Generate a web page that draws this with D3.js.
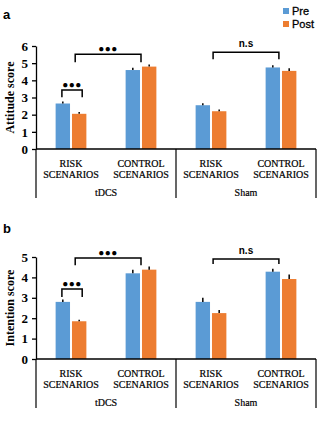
<!DOCTYPE html>
<html>
<head>
<meta charset="utf-8">
<script src="https://cdn.jsdelivr.net/npm/d3@7"></script>
<style>
body { margin:0; background:#fff; }
svg text { fill:#000; }
</style>
</head>
<body>
<div id="chart"></div>
<script>
var categories = ["RISK|SCENARIOS", "CONTROL|SCENARIOS", "RISK|SCENARIOS ", "CONTROL|SCENARIOS "];
var groups = ["tDCS", "Sham"];
var series = ["Pre", "Post"];

var attitudePre = [2.65, 4.6, 2.55, 4.75];
var attitudePost = [2.05, 4.8, 2.2, 4.55];
var attitudePreErr = [0.12, 0.13, 0.12, 0.13];
var attitudePostErr = [0.1, 0.12, 0.1, 0.15];
var attitudeTicks = [0, 1, 2, 3, 4, 5, 6];

var intentionPre = [2.8, 4.2, 2.8, 4.28];
var intentionPost = [1.85, 4.38, 2.25, 3.92];
var intentionPreErr = [0.12, 0.17, 0.2, 0.15];
var intentionPostErr = [0.08, 0.15, 0.15, 0.22];
var intentionTicks = [0, 1, 2, 3, 4, 5];

// brackets: [from, to] in category units, top / bottom in data units, label
var attitudeBrackets = [
	{ from:-0.13, to:0.16, top:3.43, bottom:3.02, label:"\u25CF\u25CF\u25CF" },
	{ from:0.06, to:1.0, top:5.52, bottom:5.06, label:"\u25CF\u25CF\u25CF" },
	{ from:2.03, to:2.97, top:5.64, bottom:5.23, label:"n.s" }
];
var intentionBrackets = [
	{ from:-0.13, to:0.16, top:3.43, bottom:3.04, label:"\u25CF\u25CF\u25CF" },
	{ from:0.06, to:1.0, top:4.95, bottom:4.6, label:"\u25CF\u25CF\u25CF" },
	{ from:2.03, to:2.97, top:4.9, bottom:4.66, label:"n.s" }
];

var colors = { "Pre":"#5b9bd5", "Post":"#ed7d31" };

var svg = d3.select("#chart")
	.append("svg")
	.attr("width", 328)
	.attr("height", 432);

var serif = "Liberation Serif, Times New Roman, serif";
var sans = "Liberation Sans, Arial, sans-serif";

function drawPanel(opt) {
	var g = svg.append("g");
	var left = 36, right = 316;

	var xScale = d3.scaleBand()
		.domain(categories)
		.range([left, right])
		.padding(0);

	var catX = function(c) { return left + xScale.bandwidth() * (c + 0.5); };

	var yScale = d3.scaleLinear()
		.domain([0, d3.max(opt.ticks)])
		.range([opt.bottom, opt.top]);

	var inner = d3.scaleBand()
		.domain(series)
		.range([0, xScale.bandwidth()])
		.paddingInner(0.12)
		.paddingOuter(1.2);

	// bars
	series.forEach(function(s) {
		var vals = s == "Pre" ? opt.pre : opt.post;
		var errs = s == "Pre" ? opt.preErr : opt.postErr;
		g.selectAll(".bar-" + s)
			.data(vals)
			.enter()
			.append("rect")
			.attr("x", function(d, i) { return xScale(categories[i]) + inner(s); })
			.attr("y", function(d) { return yScale(d); })
			.attr("width", inner.bandwidth())
			.attr("height", function(d) { return yScale(0) - yScale(d); })
			.attr("fill", colors[s]);
		g.selectAll(".err-" + s)
			.data(vals)
			.enter()
			.append("line")
			.attr("x1", function(d, i) { return xScale(categories[i]) + inner(s) + inner.bandwidth() / 2; })
			.attr("x2", function(d, i) { return xScale(categories[i]) + inner(s) + inner.bandwidth() / 2; })
			.attr("y1", function(d) { return yScale(d); })
			.attr("y2", function(d, i) { return yScale(d + errs[i]); })
			.attr("stroke", "#000")
			.attr("stroke-width", 1.5);
	});

	// y axis
	var yAxis = d3.axisLeft(yScale)
		.tickValues(opt.ticks)
		.tickFormat(d3.format("d"))
		.tickSizeInner(4)
		.tickSizeOuter(0)
		.tickPadding(4);

	var ya = g.append("g")
		.attr("transform", "translate(" + left + ",0)")
		.call(yAxis);
	ya.selectAll("text")
		.attr("font-family", serif)
		.attr("font-weight", "bold")
		.attr("font-size", "13px");
	ya.selectAll("line, path").attr("stroke", "#000").attr("stroke-width", 1.3);

	g.append("text")
		.attr("transform", "translate(14," + ((opt.top + opt.bottom) / 2) + ") rotate(-90)")
		.attr("text-anchor", "middle")
		.attr("font-family", serif)
		.attr("font-weight", "bold")
		.attr("font-size", "12px")
		.text(opt.title);

	// x axis line and separators
	g.append("line")
		.attr("x1", left).attr("x2", right)
		.attr("y1", yScale(0)).attr("y2", yScale(0))
		.attr("stroke", "#000").attr("stroke-width", 1.3);

	[0, 2, 4].forEach(function(k) {
		var x = k < 4 ? xScale(categories[k]) : right;
		g.append("line")
			.attr("x1", x).attr("x2", x)
			.attr("y1", yScale(0)).attr("y2", yScale(0) + 49)
			.attr("stroke", "#000").attr("stroke-width", 1.2);
	});

	categories.forEach(function(c, i) {
		var parts = c.trim().split("|");
		parts.forEach(function(p, j) {
			g.append("text")
				.attr("x", xScale(c) + xScale.bandwidth() / 2)
				.attr("y", yScale(0) + 18 + j * 11)
				.attr("text-anchor", "middle")
				.attr("font-family", serif)
				.attr("font-size", "10px")
				.attr("stroke", "#000")
				.attr("stroke-width", 0.2)
				.text(p);
		});
	});

	groups.forEach(function(gr, i) {
		g.append("text")
			.attr("x", xScale(categories[i * 2 + 1]))
			.attr("y", yScale(0) + 47)
			.attr("text-anchor", "middle")
			.attr("font-family", serif)
			.attr("font-size", "10px")
			.attr("stroke", "#000")
			.attr("stroke-width", 0.2)
			.text(gr);
	});

	// brackets
	opt.brackets.forEach(function(b) {
		var x1 = catX(b.from), x2 = catX(b.to);
		var yt = yScale(b.top), yb = yScale(b.bottom);
		g.append("path")
			.attr("d", "M" + x1 + "," + yb + "V" + yt + "H" + x2 + "V" + yb)
			.attr("fill", "none")
			.attr("stroke", "#000")
			.attr("stroke-width", 1.5);
		var lab = g.append("text")
			.attr("x", (x1 + x2) / 2)
			.attr("text-anchor", "middle")
			.attr("font-family", sans)
			.attr("font-weight", "bold");
		if (b.label == "n.s") {
			lab.attr("y", yt - 5).attr("font-size", "10px").text(b.label);
		} else {
			lab.attr("y", yt - 2).attr("font-size", "10px").attr("letter-spacing", "0.5px").text(b.label);
		}
	});

	svg.append("text")
		.attr("x", 3)
		.attr("y", opt.letterY)
		.attr("font-family", sans)
		.attr("font-weight", "bold")
		.attr("font-size", "13px")
		.text(opt.letter);
}

drawPanel({
	letter:"a", letterY:19, title:"Attitude score",
	top:46, bottom:149, ticks:attitudeTicks,
	pre:attitudePre, post:attitudePost, preErr:attitudePreErr, postErr:attitudePostErr,
	brackets:attitudeBrackets
});

drawPanel({
	letter:"b", letterY:233, title:"Intention score",
	top:257, bottom:359, ticks:intentionTicks,
	pre:intentionPre, post:intentionPost, preErr:intentionPreErr, postErr:intentionPostErr,
	brackets:intentionBrackets
});

// legend
var legend = svg.append("g");
series.forEach(function(s, i) {
	legend.append("rect")
		.attr("x", 283).attr("y", 8 + i * 13)
		.attr("width", 6).attr("height", 6)
		.attr("fill", colors[s]);
	legend.append("text")
		.attr("x", 292).attr("y", 15 + i * 13)
		.attr("font-family", sans)
		.attr("font-size", "11px")
		.attr("stroke", "#000")
		.attr("stroke-width", 0.3)
		.text(s);
});
</script>
</body>
</html>
